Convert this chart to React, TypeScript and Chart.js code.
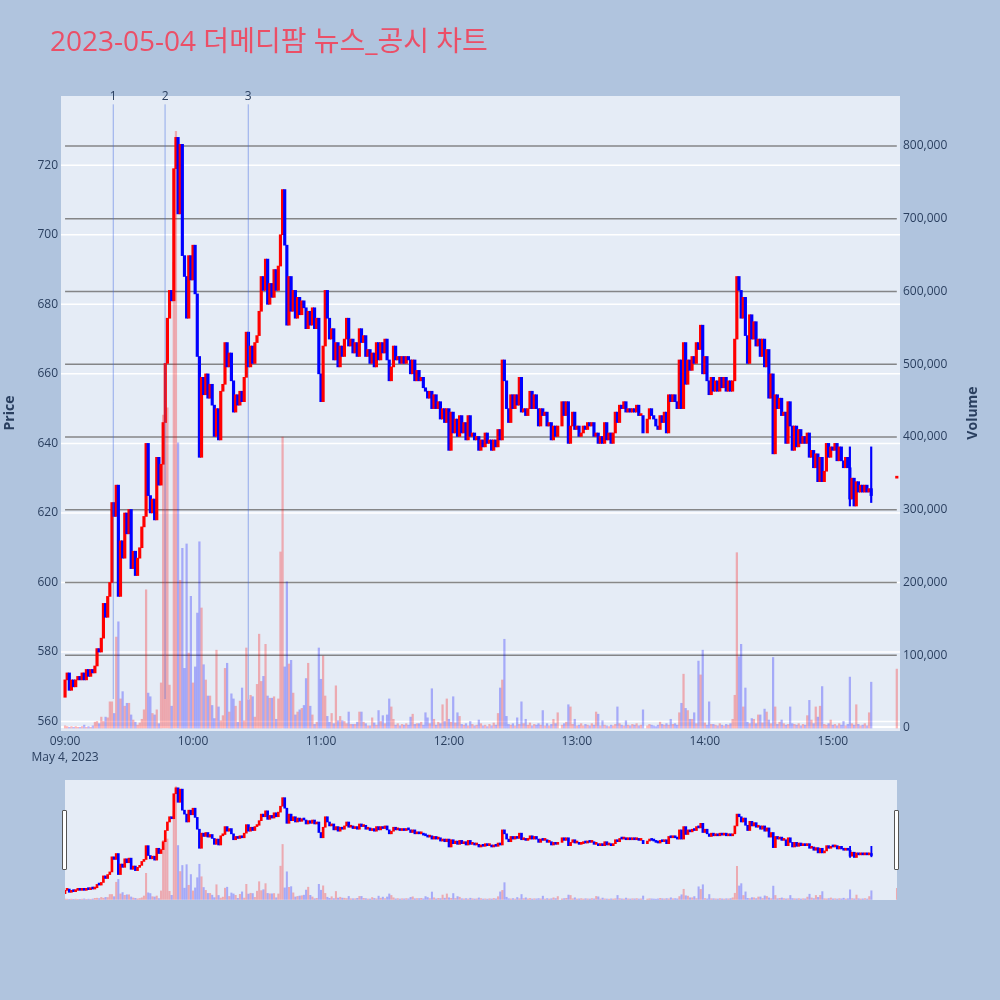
import React, { useEffect, useRef } from "react";
import { Chart, registerables } from "chart.js";

Chart.register(...registerables);

const FONT = "'Open Sans', 'Noto Sans CJK KR', sans-serif";
const TEXT_COLOR = "#2a3f5f";
const TITLE = "2023-05-04 더메디팜 뉴스_공시 차트";
const DATE_LABEL = "May 4, 2023";
const PRICE_TITLE = "Price";
const VOLUME_TITLE = "Volume";

// minute index from 09:00 -> close price (null = no trade in that minute)
const closes: (number | null)[] = [
  572, 574, 569, 572, 570, 572, 573, 572, 574, 572,
  575, 573, 575, 574, 576, 581, 580, 584, 594, 590,
  596, 600, 623, 619, 628, 596, 612, 607, 620, 614,
  621, 604, 609, 602, 607, 610, 616, 619, 640, 625,
  620, 624, 618, 636, 628, 634, 646, 663, 676, 684,
  681, 719, 728, 706, 726, 694, 688, 676, 694, 687,
  697, 683, 665, 636, 659, 654, 660, 653, 657, 651,
  642, 650, 641, 655, 657, 669, 662, 666, 658, 649,
  654, 651, 655, 652, 659, 672, 662, 668, 663, 669,
  671, 678, 688, 684, 693, 680, 686, 682, 690, 684,
  691, 700, 713, 697, 674, 688, 678, 684, 676, 682,
  677, 681, 679, 673, 678, 674, 679, 673, 676, 660,
  652, 668, 684, 676, 670, 673, 664, 669, 662, 668,
  665, 670, 676, 668, 670, 666, 669, 665, 673, 669,
  671, 665, 667, 663, 666, 662, 669, 664, 669, 666,
  670, 664, 658, 662, 668, 664, 665, 663, 665, 663,
  665, 664, 660, 664, 658, 661, 658, 659, 656, 655,
  653, 655, 650, 654, 650, 652, 647, 650, 646, 650,
  638, 649, 643, 647, 642, 648, 643, 646, 641, 648,
  642, 643, 641, 642, 638, 641, 639, 643, 640, 641,
  638, 641, 639, 644, 641, 664, 658, 650, 646, 654,
  650, 654, 651, 659, 649, 650, 648, 650, 655, 650,
  654, 650, 645, 650, 648, 649, 645, 646, 641, 645,
  642, 645, null, 652, 648, 652, 640, 645, 649, 644,
  645, 642, 643, 645, 644, 646, 645, 646, 642, 643,
  640, 642, 640, 646, 641, 643, 640, 643, 649, 646,
  651, 650, 652, 649, 650, 649, 650, 649, 651, 648,
  648, 643, null, 647, 650, 648, 647, 645, 644, 648,
  646, 649, 643, 654, 652, 654, 652, 650, 664, 650,
  669, 657, 664, 661, 665, 663, 669, 667, 674, 660,
  665, 658, 654, 659, 655, 658, 655, 659, 656, 659,
  655, 658, 655, 658, 670, 688, 684, 676, 682, 671,
  663, 677, 670, 675, 668, 670, 665, 670, 662, 667,
  653, 660, 637, 654, 650, 653, 648, 649, 640, 652,
  645, 638, 645, 639, 644, 640, 642, 640, 643, 636,
  638, 633, 637, 629, 636, 629, 632, 640, 636, 639,
  638, 640, 635, 639, 635, 633, 636, 633, 624, 630,
  622, 629, 626, 628, 626, 628, 626, 627, 625, null,
  null, null, null, null, null, null, null, null, null, null,
  630,
];

// volume per minute, in thousands of shares
const volumesK: (number | null)[] = [
  3, 2, 1, 2, 1, 2, 1, 1, 2, 4,
  1, 2, 1, 3, 8, 9, 6, 15, 9, 15,
  14, 36, 36, 20, 125, 146, 40, 50, 30, 34,
  34, 18, 11, 8, 4, 7, 12, 25, 190, 48,
  43, 20, 18, 25, 6, 62, 430, 420, 440, 59,
  30, 640, 820, 392, 203, 247, 82, 253, 103, 181,
  62, 84, 158, 256, 165, 87, 66, 44, 44, 31,
  13, 107, 29, 10, 17, 82, 89, 22, 47, 40,
  30, 8, 37, 55, 10, 110, 39, 45, 43, 15,
  60, 129, 64, 71, 115, 44, 41, 41, 43, 12,
  40, 242, 400, 84, 201, 88, 93, 48, 18, 22,
  25, 27, 31, 68, 89, 30, 18, 5, 8, 110,
  67, 99, 44, 16, 8, 20, 6, 58, 10, 16,
  10, 9, 6, 22, 5, 5, 5, 8, 22, 22,
  8, 6, 3, 3, 14, 7, 4, 24, 9, 17,
  6, 18, 40, 29, 12, 4, 6, 3, 5, 4,
  6, 4, 15, 19, 5, 6, 6, 8, 4, 21,
  14, 6, 54, 12, 4, 8, 6, 32, 9, 40,
  12, 8, 43, 7, 21, 16, 5, 4, 6, 3,
  9, 5, 3, 4, 11, 6, 3, 4, 2, 5,
  3, 7, 4, 20, 55, 66, 122, 16, 5, 4,
  6, 3, 14, 5, 36, 6, 12, 4, 7, 3,
  5, 4, 6, 4, 24, 3, 6, 3, 5, 12,
  6, 21, null, 4, 6, 8, 32, 29, 5, 12,
  3, 4, 6, 3, 5, 4, 3, 6, 4, 22,
  19, 3, 10, 4, 3, 2, 4, 3, 5, 29,
  6, 4, 3, 10, 4, 3, 5, 4, 6, 3,
  4, 25, null, 3, 5, 4, 3, 2, 4, 8,
  5, 4, 6, 4, 12, 5, 6, 4, 21, 34,
  74, 27, 24, 12, 12, 21, 6, 92, 73, 107,
  7, 4, 36, 5, 5, 4, 3, 6, 4, 3,
  5, 4, 6, 12, 45, 241, 98, 115, 29, 55,
  8, 6, 13, 12, 6, 18, 18, 7, 26, 22,
  11, 6, 97, 29, 5, 8, 11, 6, 4, 5,
  29, 6, 5, 4, 6, 3, 5, 4, 17, 38,
  11, 6, 29, 15, 30, 57, 5, 4, 6, 11,
  4, 5, 3, 6, 4, 9, 3, 5, 70, 6,
  4, 32, 5, 3, 4, 6, 3, 21, 63, null,
  null, null, null, null, null, null, null, null, null, null,
  81,
];

const openOverrideMinutes = [0, 390];
const openOverrideValues = [567, 630];
const wickMinutes = [368, 378];
const wickLows = [622, 623];
const wickHighs = [639, 639];

const newsMinutes = [22.6, 46.9, 85.9];
const newsLabels = ["1", "2", "3"];
const newsLineLow = 566.5;
const newsLineHigh = 737.5;

const timeTicks = [0, 60, 120, 180, 240, 300, 360];
const priceTicks = [560, 580, 600, 620, 640, 660, 680, 700, 720];
const volumeTicks = [0, 100000, 200000, 300000, 400000, 500000, 600000, 700000, 800000];

const X_MIN = -1.9;
const X_MAX = 391.5;
const PRICE_MIN = 557.3;
const PRICE_MAX = 739.9;
const VOL_MIN = -4100;
const VOL_MAX = 868700;

const UP = "#FF0000";
const DOWN = "#0000FF";
const UP_VOL = "rgba(255,0,0,0.28)";
const DOWN_VOL = "rgba(0,0,255,0.28)";

type Candle = { m: number; o: number; c: number; up: boolean; vol: number };

function buildCandles(): Candle[] {
  const out: Candle[] = [];
  let prev: number | null = null;
  closes.forEach((c, m) => {
    if (c == null) return;
    const oi = openOverrideMinutes.indexOf(m);
    const o = oi >= 0 ? openOverrideValues[oi] : prev ?? c;
    prev = c;
    out.push({ m, o, c, up: c >= o, vol: (volumesK[m] ?? 0) * 1000 });
  });
  return out;
}

function fmtTime(m: number): string {
  const h = 9 + Math.floor(m / 60);
  const mm = m % 60;
  return `${String(h).padStart(2, "0")}:${String(mm).padStart(2, "0")}`;
}

function makeDatasets(candles: Candle[], bodyW: number, wickW: number, volW: number) {
  const wicks = wickMinutes.map((m, i) => {
    const k = candles.find((q) => q.m === m);
    return { x: m, y: [wickLows[i], wickHighs[i]], up: k ? k.up : false };
  });
  return [
    {
      type: "bar" as const,
      label: "Volume",
      yAxisID: "y1",
      data: candles.map((k) => ({ x: k.m, y: k.vol })),
      backgroundColor: candles.map((k) => (k.up ? UP_VOL : DOWN_VOL)),
      barThickness: volW,
      grouped: false,
      borderWidth: 0,
      order: 3,
    },
    {
      type: "bar" as const,
      label: "Wicks",
      yAxisID: "y",
      data: wicks.map((w) => ({ x: w.x, y: w.y })),
      backgroundColor: wicks.map((w) => (w.up ? UP : DOWN)),
      barThickness: wickW,
      grouped: false,
      borderWidth: 0,
      order: 2,
    },
    {
      type: "bar" as const,
      label: "Price",
      yAxisID: "y",
      data: candles.map((k) => ({ x: k.m, y: [Math.min(k.o, k.c), Math.max(k.o, k.c)] })),
      backgroundColor: candles.map((k) => (k.up ? UP : DOWN)),
      barThickness: bodyW,
      minBarLength: 2,
      grouped: false,
      borderWidth: 0,
      order: 1,
    },
  ];
}

const mainDecor = {
  id: "mainDecor",
  beforeDatasetsDraw(chart: any) {
    const { ctx, chartArea: a, scales } = chart;
    ctx.save();
    ctx.fillStyle = "#E5ECF6";
    ctx.fillRect(a.left, a.top, a.right - a.left, a.bottom - a.top);
    ctx.strokeStyle = "#FFFFFF";
    ctx.lineWidth = 1.5;
    for (const p of priceTicks) {
      const y = scales.y.getPixelForValue(p);
      ctx.beginPath();
      ctx.moveTo(a.left, y);
      ctx.lineTo(a.right, y);
      ctx.stroke();
    }
    const x0 = scales.x.getPixelForValue(0);
    const x1 = scales.x.getPixelForValue(390);
    for (const v of volumeTicks) {
      const y = scales.y1.getPixelForValue(v);
      if (v === 0) {
        ctx.strokeStyle = "#FFFFFF";
        ctx.lineWidth = 2;
        ctx.beginPath();
        ctx.moveTo(a.left, y - 1);
        ctx.lineTo(a.right, y - 1);
        ctx.stroke();
        continue;
      }
      ctx.strokeStyle = "rgba(115,115,115,0.85)";
      ctx.lineWidth = 1.5;
      ctx.beginPath();
      ctx.moveTo(x0, y);
      ctx.lineTo(x1, y);
      ctx.stroke();
    }
    ctx.restore();
  },
  afterDatasetsDraw(chart: any) {
    const { ctx, scales } = chart;
    ctx.save();
    ctx.strokeStyle = "rgba(65,105,225,0.5)";
    ctx.lineWidth = 1;
    newsMinutes.forEach((m) => {
      const x = scales.x.getPixelForValue(m);
      ctx.beginPath();
      ctx.moveTo(x, scales.y.getPixelForValue(newsLineHigh));
      ctx.lineTo(x, scales.y.getPixelForValue(newsLineLow));
      ctx.stroke();
    });
    ctx.restore();
  },
  afterDraw(chart: any) {
    const { ctx, scales } = chart;
    ctx.save();
    ctx.fillStyle = "#EB4F67";
    ctx.font = `28px ${FONT}`;
    ctx.textAlign = "left";
    ctx.textBaseline = "alphabetic";
    ctx.fillText(TITLE, 50, 51);

    ctx.fillStyle = TEXT_COLOR;
    ctx.font = `12px ${FONT}`;
    ctx.textAlign = "center";
    ctx.textBaseline = "middle";
    newsMinutes.forEach((m, i) => {
      ctx.fillText(newsLabels[i], scales.x.getPixelForValue(m), 97);
    });

    ctx.font = `bold 14px ${FONT}`;
    ctx.translate(10, 413);
    ctx.rotate(-Math.PI / 2);
    ctx.fillText(PRICE_TITLE, 0, 0);
    ctx.setTransform(1, 0, 0, 1, 0, 0);
    ctx.translate(973, 413);
    ctx.rotate(-Math.PI / 2);
    ctx.fillText(VOLUME_TITLE, 0, 0);
    ctx.restore();
  },
};

const miniDecor = {
  id: "miniDecor",
  beforeDatasetsDraw(chart: any) {
    const { ctx, chartArea: a } = chart;
    ctx.save();
    ctx.fillStyle = "#E5ECF6";
    ctx.fillRect(a.left, a.top, a.right - a.left, a.bottom - a.top);
    ctx.restore();
  },
};

export default function App() {
  const mainRef = useRef<HTMLCanvasElement | null>(null);
  const miniRef = useRef<HTMLCanvasElement | null>(null);

  useEffect(() => {
    const candles = buildCandles();
    const tickFont = { family: FONT, size: 12, lineHeight: 1.35 };

    const main = new Chart(mainRef.current as HTMLCanvasElement, {
      type: "bar",
      data: { datasets: makeDatasets(candles, 2.5, 1.5, 1.6) as any },
      options: {
        responsive: false,
        animation: false,
        devicePixelRatio: 1,
        layout: { padding: { top: 96, left: 0, right: 0, bottom: 0 } },
        plugins: { legend: { display: false }, tooltip: { enabled: false }, title: { display: false } },
        scales: {
          x: {
            type: "linear",
            min: X_MIN,
            max: X_MAX,
            offset: false,
            grid: { display: false, drawTicks: false },
            border: { display: false },
            afterBuildTicks: (s: any) => {
              s.ticks = timeTicks.map((v) => ({ value: v }));
            },
            ticks: {
              autoSkip: false,
              maxRotation: 0,
              padding: 2,
              color: TEXT_COLOR,
              font: tickFont,
              callback: (v: any) => (Number(v) === 0 ? [fmtTime(0), DATE_LABEL] : fmtTime(Number(v))),
            },
            afterFit: (s: any) => {
              s.height = 39;
            },
          },
          y: {
            type: "linear",
            position: "left",
            min: PRICE_MIN,
            max: PRICE_MAX,
            grid: { display: false, drawTicks: false },
            border: { display: false },
            afterBuildTicks: (s: any) => {
              s.ticks = priceTicks.map((v) => ({ value: v }));
            },
            ticks: { autoSkip: false, padding: 3, color: TEXT_COLOR, font: tickFont },
            afterFit: (s: any) => {
              s.width = 61;
            },
          },
          y1: {
            type: "linear",
            position: "right",
            min: VOL_MIN,
            max: VOL_MAX,
            grid: { display: false, drawTicks: false },
            border: { display: false },
            afterBuildTicks: (s: any) => {
              s.ticks = volumeTicks.map((v) => ({ value: v }));
            },
            ticks: {
              autoSkip: false,
              padding: 3,
              color: TEXT_COLOR,
              font: tickFont,
              callback: (v: any) => Number(v).toLocaleString("en-US"),
            },
            afterFit: (s: any) => {
              s.width = 100;
            },
          },
        },
      } as any,
      plugins: [mainDecor],
    });

    const mini = new Chart(miniRef.current as HTMLCanvasElement, {
      type: "bar",
      data: { datasets: makeDatasets(candles, 2, 1.2, 1.4) as any },
      options: {
        responsive: false,
        animation: false,
        devicePixelRatio: 1,
        layout: { padding: 0 },
        plugins: { legend: { display: false }, tooltip: { enabled: false } },
        scales: {
          x: { type: "linear", min: 0, max: 390, offset: false, display: false },
          y: { type: "linear", min: PRICE_MIN, max: PRICE_MAX, display: false },
          y1: { type: "linear", min: VOL_MIN, max: VOL_MAX, display: false },
        },
      } as any,
      plugins: [miniDecor],
    });

    return () => {
      main.destroy();
      mini.destroy();
    };
  }, []);

  const handle: React.CSSProperties = {
    position: "absolute",
    top: 810,
    width: 5,
    height: 60,
    background: "#FFFFFF",
    border: "1px solid #555",
    borderRadius: 1,
    boxSizing: "border-box",
  };

  return (
    <div
      style={{
        position: "absolute",
        left: 0,
        top: 0,
        width: 1000,
        height: 1000,
        background: "#B0C4DE",
        overflow: "hidden",
      }}
    >
      <canvas ref={mainRef} width={1000} height={770} style={{ position: "absolute", left: 0, top: 0 }} />
      <canvas ref={miniRef} width={832} height={120} style={{ position: "absolute", left: 65, top: 780 }} />
      <div style={{ ...handle, left: 62 }} />
      <div style={{ ...handle, left: 894 }} />
    </div>
  );
}
